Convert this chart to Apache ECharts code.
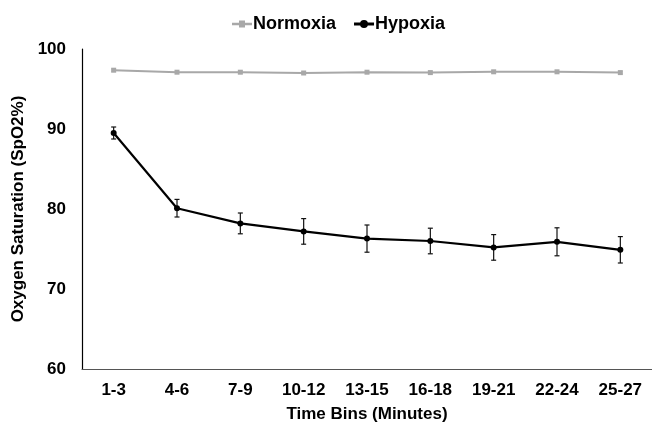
<!DOCTYPE html>
<html>
<head>
<meta charset="utf-8">
<script src="https://cdn.jsdelivr.net/npm/echarts@6/dist/echarts.min.js"></script>
<style>
html,body{margin:0;padding:0;background:#fff;}
#chart{width:652px;height:423px;}
</style>
</head>
<body>
<div id="chart"></div>
<script>
const categories = ['1-3','4-6','7-9','10-12','13-15','16-18','19-21','22-24','25-27'];
const normoxia = [97.35, 97.1, 97.1, 97.0, 97.1, 97.05, 97.15, 97.15, 97.05];
const normoxiaErr = [0.15, 0.15, 0.15, 0.15, 0.15, 0.15, 0.15, 0.15, 0.15];
const hypoxia = [89.5, 80.1, 78.2, 77.2, 76.3, 76.0, 75.2, 75.9, 74.9];
const hypoxiaErr = [0.75, 1.1, 1.3, 1.6, 1.7, 1.6, 1.6, 1.75, 1.65];
const yTicks = [60, 70, 80, 90, 100];

const font = 'Liberation Sans, Arial, sans-serif';
const chart = echarts.init(document.getElementById('chart'));

function errSeries(name, vals, errs, color, width) {
  return {
    type: 'custom',
    name: name + ' err',
    silent: true,
    z: 1,
    renderItem: function (params, api) {
      const i = api.value(0);
      const v = api.value(1);
      const e = api.value(2);
      const top = api.coord([i, v + e]);
      const bot = api.coord([i, v - e]);
      const hw = width;
      const style = { stroke: color, lineWidth: 1.2 };
      return {
        type: 'group',
        children: [
          { type: 'line', shape: { x1: top[0], y1: top[1], x2: bot[0], y2: bot[1] }, style: style },
          { type: 'line', shape: { x1: top[0] - hw, y1: top[1], x2: top[0] + hw, y2: top[1] }, style: style },
          { type: 'line', shape: { x1: bot[0] - hw, y1: bot[1], x2: bot[0] + hw, y2: bot[1] }, style: style }
        ]
      };
    },
    data: vals.map(function (v, i) { return [i, v, errs[i]]; })
  };
}

chart.setOption({
  animation: false,
  backgroundColor: '#ffffff',
  legend: {
    top: 10,
    left: 227,
    itemGap: 18,
    itemWidth: 20,
    itemHeight: 8,
    textStyle: { fontFamily: font, fontWeight: 'bold', fontSize: 18, color: '#000', padding: [0, 0, 0, -4] },
    data: [
      { name: 'Normoxia', icon: 'path://M0,4.4L10,4.4L10,5.6L0,5.6Z M3.5,3.2L6.5,3.2L6.5,6.8L3.5,6.8Z' },
      { name: 'Hypoxia', icon: 'path://M0,4.3L10,4.3L10,5.7L0,5.7Z M5,3A2,2 0 1,1 4.99,3Z' }
    ]
  },
  grid: { left: 82, right: 0, top: 49, bottom: 54, containLabel: false, outerBoundsMode: 'none' },
  xAxis: {
    type: 'category',
    data: categories,
    boundaryGap: true,
    name: 'Time Bins (Minutes)',
    nameLocation: 'middle',
    nameGap: 37,
    nameTextStyle: { fontFamily: font, fontWeight: 'bold', fontSize: 17, color: '#000' },
    axisLine: { lineStyle: { color: '#555', width: 1.2 } },
    axisTick: { show: false },
    axisLabel: { fontFamily: font, fontWeight: 'bold', fontSize: 17, color: '#000', margin: 13, interval: 0 }
  },
  yAxis: {
    type: 'value',
    min: yTicks[0],
    max: yTicks[yTicks.length - 1],
    interval: 10,
    name: 'Oxygen Saturation (SpO2%)',
    nameLocation: 'middle',
    nameGap: 55,
    nameTextStyle: { fontFamily: font, fontWeight: 'bold', fontSize: 17, color: '#000' },
    axisLine: { show: true, lineStyle: { color: '#000', width: 1.2 } },
    axisTick: { show: false },
    splitLine: { show: false },
    axisLabel: { fontFamily: font, fontWeight: 'bold', fontSize: 17, color: '#000', margin: 16 }
  },
  series: [
    {
      name: 'Normoxia',
      type: 'line',
      data: normoxia,
      symbol: 'rect',
      symbolSize: 5,
      z: 3,
      lineStyle: { color: '#a8a8a8', width: 2 },
      itemStyle: { color: '#a8a8a8' }
    },
    errSeries('Normoxia', normoxia, normoxiaErr, '#a8a8a8', 2),
    {
      name: 'Hypoxia',
      type: 'line',
      data: hypoxia,
      symbol: 'circle',
      symbolSize: 6,
      z: 3,
      lineStyle: { color: '#000', width: 2.2 },
      itemStyle: { color: '#000' }
    },
    errSeries('Hypoxia', hypoxia, hypoxiaErr, '#111', 2.5)
  ]
});
</script>
</body>
</html>
